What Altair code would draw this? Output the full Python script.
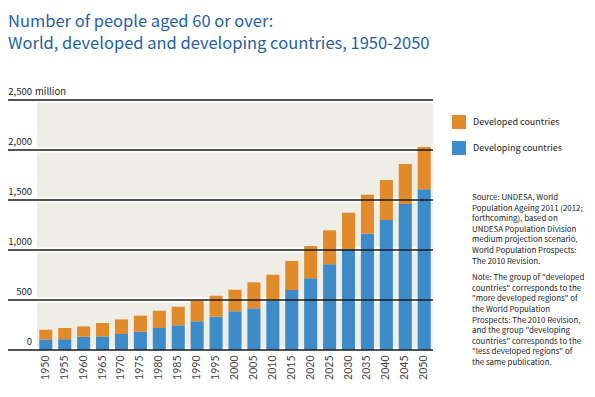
import altair as alt
import pandas as pd

years = [str(y) for y in range(1950, 2051, 5)]
developing = [106, 108, 133, 136, 160, 183, 220, 247, 287, 333, 387, 417, 493, 600, 717, 857, 1010, 1163, 1300, 1460, 1607]
developed = [97, 112, 103, 134, 146, 160, 173, 186, 206, 210, 216, 260, 260, 290, 323, 340, 363, 390, 400, 400, 423]
series = ["Developed countries", "Developing countries"]
colors = ["#e08a2a", "#3d8bc9"]

tick_values = [0, 500, 1000, 1500, 2000, 2500]
tick_labels = ["0", "500", "1,000", "1,500", "2,000", "2,500"]

source_lines = [
    "Source: UNDESA, World",
    "Population Ageing 2011 (2012;",
    "forthcoming), based on",
    "UNDESA Population Division",
    "medium projection scenario,",
    "World Population Prospects:",
    "The 2010 Revision.",
]
note_lines = [
    'Note: The group of "developed',
    'countries" corresponds to the',
    '"more developed regions" of',
    "the World Population",
    "Prospects: The 2010 Revision,",
    'and the group "developing',
    'countries" corresponds to the',
    '"less developed regions" of',
    "the same publication.",
]

NARROW = "Noto Sans CJK SC, Roboto, sans-serif"
W, H = 396, 250

rows = []
for i, y in enumerate(years):
    rows.append({"year": y, "series": series[1], "value": developing[i], "ord": 0})
    rows.append({"year": y, "series": series[0], "value": developed[i], "ord": 1})
bars_df = pd.DataFrame(rows)
grid_df = pd.DataFrame({"v": tick_values, "label": tick_labels})
yscale = alt.Scale(domain=[0, 2500])

bars = alt.Chart(bars_df).mark_bar().encode(
    x=alt.X("year:O", sort=years,
            scale=alt.Scale(paddingInner=0.31, paddingOuter=0.12),
            axis=alt.Axis(title=None, labelAngle=270, domain=False, ticks=False,
                          labelPadding=5, labelFontSize=10.5, labelFont="Lato",
                          labelColor="#444")),
    y=alt.Y("value:Q", stack="zero", scale=yscale, axis=None),
    color=alt.Color("series:N", scale=alt.Scale(domain=series, range=colors),
                    legend=alt.Legend(orient="none", legendX=415, legendY=15, title=None,
                                      symbolType="square", symbolSize=196,
                                      symbolStrokeWidth=0, symbolOpacity=1,
                                      labelFontSize=9, labelFont=NARROW,
                                      labelColor="#222", rowPadding=12, labelOffset=7)),
    order=alt.Order("ord:Q"),
)

white_bands = alt.Chart(grid_df).mark_rule(color="white", strokeWidth=5).encode(
    y=alt.Y("v:Q", scale=yscale, axis=None),
    x=alt.value(0), x2=alt.value(W),
)

black_lines = alt.Chart(grid_df).mark_rule(color="#1a1a1a", strokeWidth=1.6).encode(
    y=alt.Y("v:Q", scale=yscale, axis=None),
    x=alt.value(-29), x2=alt.value(W),
)

grid_text = alt.Chart(grid_df).mark_text(
    align="right", baseline="bottom", dy=-3, fontSize=9.5, font=NARROW, color="#222"
).encode(
    y=alt.Y("v:Q", scale=yscale, axis=None),
    x=alt.value(-5),
    text="label:N",
)

million = alt.Chart(pd.DataFrame({"v": [2500], "t": ["million"]})).mark_text(
    align="left", baseline="bottom", dy=-3, fontSize=9.5, font=NARROW, color="#222"
).encode(
    y=alt.Y("v:Q", scale=yscale, axis=None),
    x=alt.value(-2),
    text="t:N",
)

TS = 7.9
LH = 10.6
text_layers = []
for i, line in enumerate(source_lines):
    text_layers.append(
        alt.Chart(pd.DataFrame({"t": [line]})).mark_text(
            align="left", baseline="middle", fontSize=TS, font=NARROW, color="#222"
        ).encode(x=alt.value(435), y=alt.value(98 + LH * i), text="t:N")
    )
for i, line in enumerate(note_lines):
    text_layers.append(
        alt.Chart(pd.DataFrame({"t": [line]})).mark_text(
            align="left", baseline="middle", fontSize=TS, font=NARROW, color="#222"
        ).encode(x=alt.value(435), y=alt.value(98 + LH * 7 + 6 + LH * i), text="t:N")
    )

chart = alt.layer(white_bands, bars, black_lines, grid_text, million, *text_layers).properties(
    width=W, height=H,
    autosize=alt.AutoSizeParams(type="none"),
    padding={"left": 29, "top": 92, "right": 154, "bottom": 39},
    title=alt.Title(
        ["Number of people aged 60 or over:", "World, developed and developing countries, 1950-2050"],
        anchor="start", frame="group", dx=-29, offset=35, fontSize=16.5, lineHeight=22,
        font=NARROW, fontWeight="normal", color="#1f5fa6",
    ),
).configure_view(fill="#efeee6", stroke=None)

chart.save("out.html", embed_options={"renderer": "svg", "actions": False})
